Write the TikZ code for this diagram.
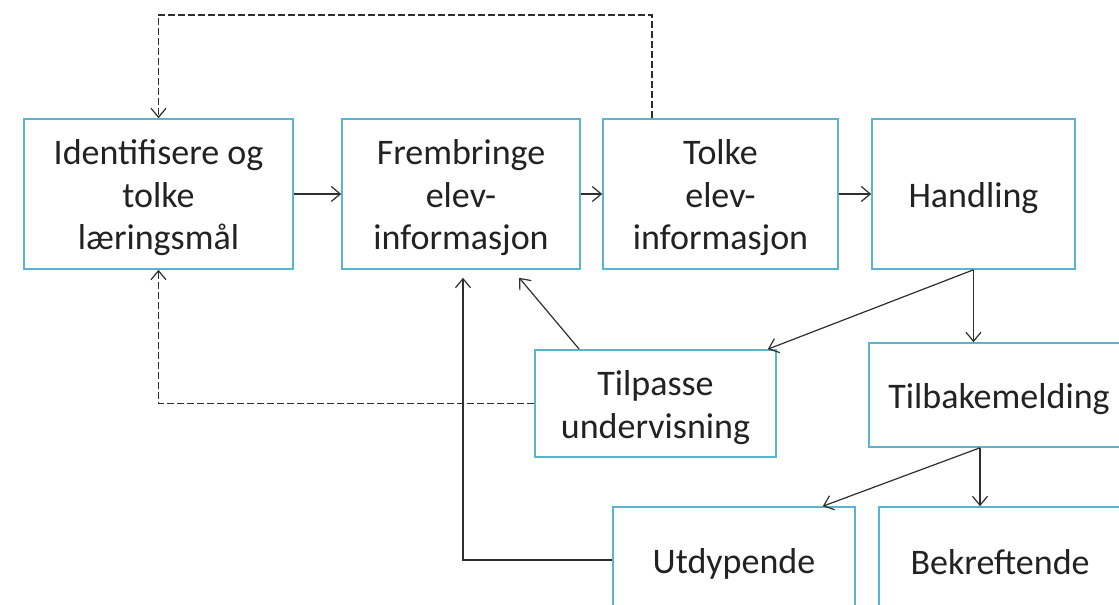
\documentclass[tikz,border=0pt]{standalone}
\usepackage{fontspec}
\setmainfont{Carlito}
\usetikzlibrary{arrows.meta}
\definecolor{boxline}{HTML}{5BB4CE}
\definecolor{linkline}{HTML}{2E2E2E}
\definecolor{labeltext}{HTML}{222222}
\begin{document}
\begin{tikzpicture}[x=1pt,y=-1pt,
  stage/.style={draw=boxline,line width=1.6pt,fill=white,rectangle,
    inner sep=0pt},
  caption/.style={align=center,text=labeltext,inner sep=0pt,yshift=-4pt,
    font=\fontsize{36}{42.5}\selectfont},
  link/.style={draw=linkline,line width=1.2pt,
    -{Straight Barb[length=9pt,width=15pt,line width=1.2pt]}},
  loop/.style={link,dashed,dash pattern=on 7pt off 3pt}]
\useasboundingbox (0,0) rectangle (1119,605);
\clip (0,0) rectangle (1119,605);
\fill[white] (0,0) rectangle (1119,605);

% main chain
\node[stage,minimum width=269pt,minimum height=150pt,
  label={[caption]center:{Identifisere og\\tolke\\læringsmål}}] (ident) at (158.5,194) {};
\node[stage,minimum width=238pt,minimum height=150pt,
  label={[caption]center:{Frembringe\\elev-\\informasjon}}] (frem) at (461,194) {};
\node[stage,minimum width=235pt,minimum height=150pt,
  label={[caption]center:{Tolke\\elev-\\informasjon}}] (tolk) at (720.5,194) {};
\node[stage,minimum width=203pt,minimum height=150pt,
  label={[caption]center:{Handling}}] (hand) at (973.5,194) {};

% responses
\node[stage,minimum width=241pt,minimum height=107pt,
  label={[caption]center:{Tilpasse\\undervisning}}] (tilp) at (655.5,403.5) {};
\node[stage,minimum width=260pt,minimum height=104pt,
  label={[caption]center:{Tilbakemelding}}] (tilb) at (999,395) {};
\node[stage,minimum width=242pt,minimum height=106pt,
  label={[caption]center:{Utdypende}}] (utd) at (734,560) {};
\node[stage,minimum width=242pt,minimum height=106pt,
  label={[caption,yshift=2pt]center:{Bekreftende}}] (bekr) at (1000,560) {};

% horizontal chain arrows
\draw[link] (ident.east) -- (frem.west);
\draw[link] (frem.east) -- (tolk.west);
\draw[link] (tolk.east) -- (hand.west);

% dashed feedback loops
\coordinate (topturn) at (652,15);
\draw[loop] (tolk.north -| topturn) |- (ident.north |- topturn) -- (ident.north);
\draw[loop] (tilp.west) -| (ident.south);

% from Handling
\draw[link] (hand.south) -- (hand.south |- tilb.north);
\draw[link] (hand.south) -- ([xshift=-9pt]tilp.north east);

% back to Frembringe
\draw[link] ([xshift=45pt]tilp.north west) -- ([xshift=178pt,yshift=-8pt]frem.south west);
\draw[link] (utd.west) -| ([xshift=2pt,yshift=-8pt]frem.south);

% from Tilbakemelding
\coordinate (tb) at ([xshift=-19pt]tilb.south);
\draw[link] (tb) -- ([xshift=-33pt]utd.north east);
\draw[link] (tb) -- (tb |- bekr.north);
\end{tikzpicture}
\end{document}
